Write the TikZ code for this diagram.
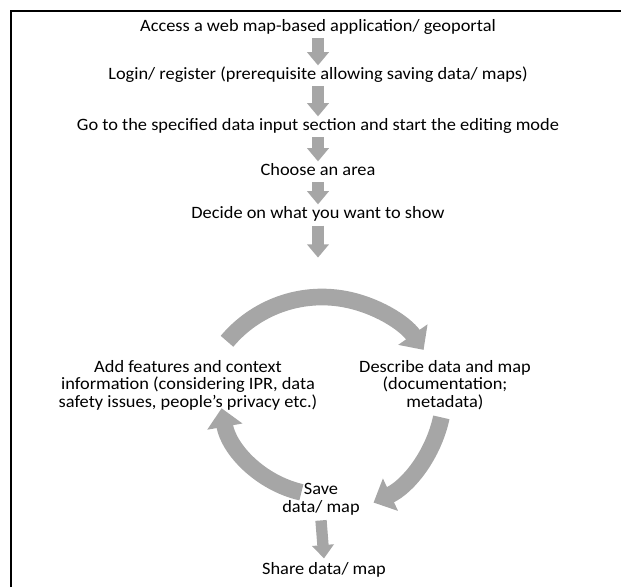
\documentclass[tikz,border=0pt]{standalone}
\usepackage{fontspec}
\setmainfont{Carlito}[FakeStretch=1.06]
\usetikzlibrary{arrows.meta, positioning}

\definecolor{flowgray}{RGB}{166,166,166}

\begin{document}
\begin{tikzpicture}[x=0.75pt,y=0.75pt,
                    font=\fontsize{13}{13.2}\selectfont]
  \tikzstyle{stage} = [align=center, inner sep=0pt]
  \tikzstyle{line} = [stage, text height=10pt, text depth=3pt]
  \tikzstyle{down} = [draw=flowgray, line width=8.5pt,
                      -{Triangle[length=10pt, width=16pt]}]
  \tikzstyle{loop} = [draw=flowgray, line width=12.5pt,
                      -{Triangle[length=14pt, width=26pt]}]
  \useasboundingbox (0,0) rectangle (621,587);
  % frame
  \draw [line width=1.5pt] (11,0) -- (11,576) -- (621,576);
  % main column
  \node [line] (access) at (318,560) {Access a web map-based application/ geoportal};
  \node [line] (login)  at (318,512) {Login/ register (prerequisite allowing saving data/ maps)};
  \node [line] (goto)   at (318,461) {Go to the specified data input section and start the editing mode};
  \node [line] (area)   at (318,416) {Choose an area};
  \node [line] (decide) at (318,373) {Decide on what you want to show};
  % cycle
  \coordinate (top hub) at (322,166);
  \coordinate (right hub) at (322,195);
  \coordinate (left hub) at (325,197);
  \node [stage] (add)      at (188,202) {Add features and context\\information (considering IPR, data\\safety issues, people’s privacy etc.)};
  \node [stage] (describe) at (445,202) {Describe data and map\\(documentation;\\metadata)};
  \node [stage] (save)     at (321,88)  {Save\\data/ map};
  \node [line]  (share)    at (324,17)  {Share data/ map};
  \draw [down] ([yshift=-1.5pt]access.south) -- ([yshift=0.5pt]login.north);
  \draw [down] ([yshift=-1.5pt]login.south) -- ([yshift=0.5pt]goto.north);
  \draw [down] ([yshift=-1.5pt]goto.south) -- ([yshift=0.5pt]area.north);
  \draw [down] ([yshift=-1.5pt]area.south) -- ([yshift=0.5pt]decide.north);
  \draw [down] ([yshift=-2pt]decide.south) -- ++(0,-32);
  \draw [loop] ([shift={(140:124)}]top hub) arc [start angle=140, end angle=35, radius=124];
  \draw [loop] ([shift={(-12:122)}]right hub) arc [start angle=-12, end angle=-65, radius=122];
  \draw [loop] ([shift={(-103:105)}]left hub) arc [start angle=-103, end angle=-170, radius=105];
  \draw [down] ([yshift=-4pt]save.south) -- ([yshift=2pt]share.north);
\end{tikzpicture}
\end{document}
